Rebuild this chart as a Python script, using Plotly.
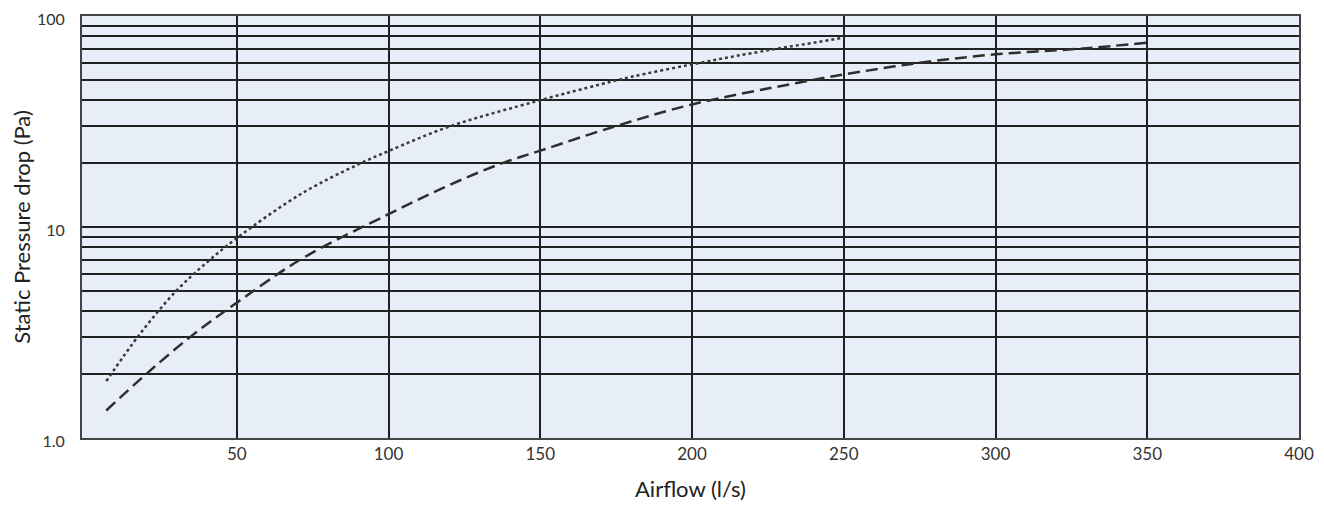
import plotly.graph_objects as go

# Data
flow_dotted = [7, 18, 30, 40, 50, 71, 90, 100, 120, 150, 170, 180, 200, 220, 250]
pressure_dotted = [1.86, 3.1, 4.97, 6.77, 8.85, 14.3, 19.8, 22.9, 29.9, 39.9, 47.5, 51.5, 59.0, 66.8, 78.9]

flow_dashed = [7, 20, 35, 50, 72, 100, 120, 138, 150, 174, 200, 235, 250, 275, 300, 328, 350]
pressure_dashed = [1.35, 2.0, 3.04, 4.38, 7.15, 11.5, 15.8, 20.2, 23.0, 29.8, 38.1, 48.3, 52.8, 60.0, 65.8, 70.0, 74.7]

x_ticks = [50, 100, 150, 200, 250, 300, 350, 400]
y_grid = [1, 2, 3, 4, 5, 6, 7, 8, 9, 10, 20, 30, 40, 50, 60, 70, 80, 90, 100]
y_labels = {1: "1.0", 10: "10", 100: "100"}

fig = go.Figure()
fig.add_trace(go.Scatter(
    x=flow_dotted, y=pressure_dotted, mode="lines",
    line=dict(color="#3a3a3a", width=2.5, dash="dot", shape="spline", smoothing=1.0),
    showlegend=False, hoverinfo="skip"))
fig.add_trace(go.Scatter(
    x=flow_dashed, y=pressure_dashed, mode="lines",
    line=dict(color="#2e2e2e", width=2.5, dash="12px,6px", shape="spline", smoothing=1.0),
    showlegend=False, hoverinfo="skip"))

fig.update_layout(
    width=1324, height=506,
    margin=dict(l=74, r=33, t=8, b=76),
    paper_bgcolor="white",
    plot_bgcolor="#e8eef8",
    font=dict(family="Lato, 'Open Sans', sans-serif", color="#333333", size=17),
)
fig.update_xaxes(
    range=[-1, 400], tickvals=x_ticks, ticktext=[str(v) for v in x_ticks],
    showgrid=True, gridcolor="#222222", gridwidth=2,
    showline=True, linecolor="#444444", linewidth=2, mirror=True,
    zeroline=False, ticks="", ticklabelstandoff=0, automargin=False,
    ticklabeloverflow="allow",
    title=dict(text="Airflow (l/s)", font=dict(size=22, color="#222222"), standoff=18),
)
fig.update_yaxes(
    type="log", range=[0, 2], tickvals=y_grid,
    ticktext=[y_labels.get(v, "") for v in y_grid],
    tickfont=dict(size=16),
    showgrid=True, gridcolor="#222222", gridwidth=2,
    showline=True, linecolor="#444444", linewidth=2, mirror=True,
    zeroline=False, ticks="", ticklabelstandoff=12, ticklabelshift=3, automargin=False,
    ticklabeloverflow="allow",
    title=dict(text="Static Pressure drop (Pa)", font=dict(size=22, color="#222222"), standoff=11),
)

fig.write_html("out.html")
